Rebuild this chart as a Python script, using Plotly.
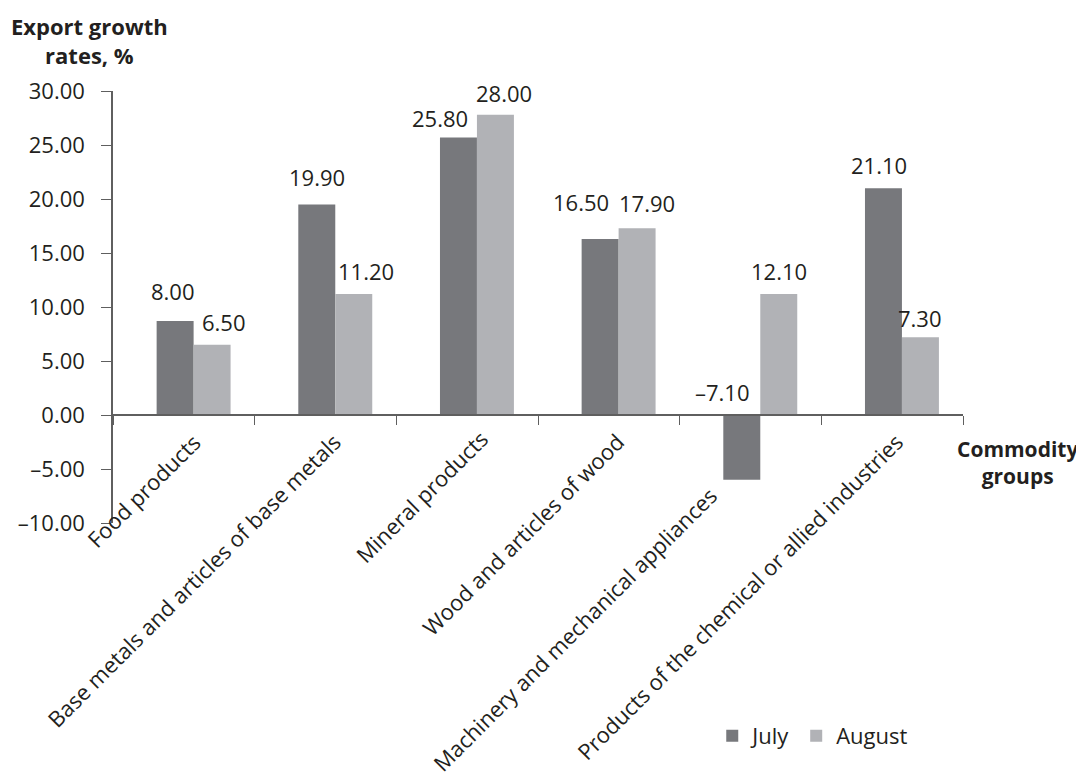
import plotly.graph_objects as go

categories = [
    "Food products",
    "Base metals and articles of base metals",
    "Mineral products",
    "Wood and articles of wood",
    "Machinery and mechanical appliances",
    "Products of the chemical or allied industries",
]
july_values = [8.7, 19.5, 25.7, 16.3, -6.0, 21.0]
august_values = [6.5, 11.2, 27.8, 17.3, 11.2, 7.2]
july_labels = ["8.00", "19.90", "25.80", "16.50", "\u20137.10", "21.10"]
august_labels = ["6.50", "11.20", "28.00", "17.90", "12.10", "7.30"]
y_tickvals = [-10, -5, 0, 5, 10, 15, 20, 25, 30]
y_ticktext = ["\u201310.00", "\u20135.00", "0.00", "5.00", "10.00", "15.00", "20.00", "25.00", "30.00"]

# style: per-label nudges (xshift px, gap px above bar top)
july_nudge = [(-2, 19), (0, 16), (-18, 8), (-19, 26), (-19, 12), (-4, 12)]
august_nudge = [(12, 12), (12, 12), (9, 11), (10, 14), (0, 12), (0, 8)]
# style: category label nudges (xshift px, yshift px) of the label's upper-right corner
cat_nudge = [(26, -9), (24, -9), (30, -6), (24, -9), (-25, -63), (20, -9)]

FONT = "Open Sans"
TXT = "#231f20"
AX = "#5f5f5f"
C_JULY = "#77787c"
C_AUG = "#b1b2b6"
BAR_W = 0.261
OFF_J = -0.192
OFF_A = 0.069

fig = go.Figure()
fig.add_trace(go.Bar(x=categories, y=july_values, name="July", marker_color=C_JULY,
                     width=BAR_W, offset=OFF_J, marker_line_width=0))
fig.add_trace(go.Bar(x=categories, y=august_values, name="August", marker_color=C_AUG,
                     width=BAR_W, offset=OFF_A, marker_line_width=0))

annotations = []
for i in range(len(categories)):
    for vals, labs, nud, off in ((july_values, july_labels, july_nudge, OFF_J),
                                 (august_values, august_labels, august_nudge, OFF_A)):
        annotations.append(dict(
            x=i + off + BAR_W / 2, y=max(vals[i], 0), xref="x", yref="y",
            text=labs[i], showarrow=False, yanchor="bottom", xanchor="center",
            xshift=nud[i][0], yshift=nud[i][1] - 6,
            font=dict(family=FONT, size=22, color=TXT)))
    annotations.append(dict(
        x=i, y=0, xref="x", yref="y", text=categories[i], showarrow=False,
        textangle=-45, xanchor="right", yanchor="top",
        xshift=cat_nudge[i][0], yshift=cat_nudge[i][1],
        font=dict(family=FONT, size=22, color=TXT)))

annotations.append(dict(x=-0.028, y=1.118, xref="paper", yref="paper",
                        text="<b>Export growth</b><br><b>rates, %</b>", showarrow=False,
                        xanchor="center", yanchor="middle", align="center",
                        font=dict(family=FONT, size=22, color=TXT)))
annotations.append(dict(x=1.064, y=0.139, xref="paper", yref="paper",
                        text="<b>Commodity</b><br><b>groups</b>", showarrow=False,
                        xanchor="center", yanchor="middle", align="center",
                        font=dict(family=FONT, size=21, color=TXT)))

# the page body adds an 8px margin, so the figure is 8px smaller than the window
fig.update_layout(
    template="none",
    width=1076, height=770,
    margin=dict(l=105, r=121, t=83, b=255, autoexpand=False),
    paper_bgcolor="white", plot_bgcolor="white",
    barmode="overlay",
    font=dict(family=FONT, size=22, color=TXT),
    annotations=annotations,
    showlegend=True,
    legend=dict(orientation="h", x=0.705, y=-0.493, xanchor="left", yanchor="middle",
                font=dict(family=FONT, size=22, color=TXT), bgcolor="rgba(0,0,0,0)",
                itemwidth=30, traceorder="normal"),
    xaxis=dict(type="category", anchor="free", position=0.25, showline=True,
               linecolor=AX, linewidth=1.5, ticks="outside", ticklen=9, tickwidth=1.3,
               tickcolor=AX, tickson="boundaries", showticklabels=False, showgrid=False,
               zeroline=False, automargin=False, range=[-0.5, 5.5]),
    yaxis=dict(range=[-10, 30], tickvals=y_tickvals, ticktext=y_ticktext,
               showline=True, linecolor=AX, linewidth=1.5, ticks="outside",
               ticklen=10, tickwidth=1.3, tickcolor=AX, showgrid=False,
               zeroline=False, automargin=False, ticklabelstandoff=12,
               tickfont=dict(family=FONT, size=22, color=TXT)),
)

fig.write_html("out.html")
